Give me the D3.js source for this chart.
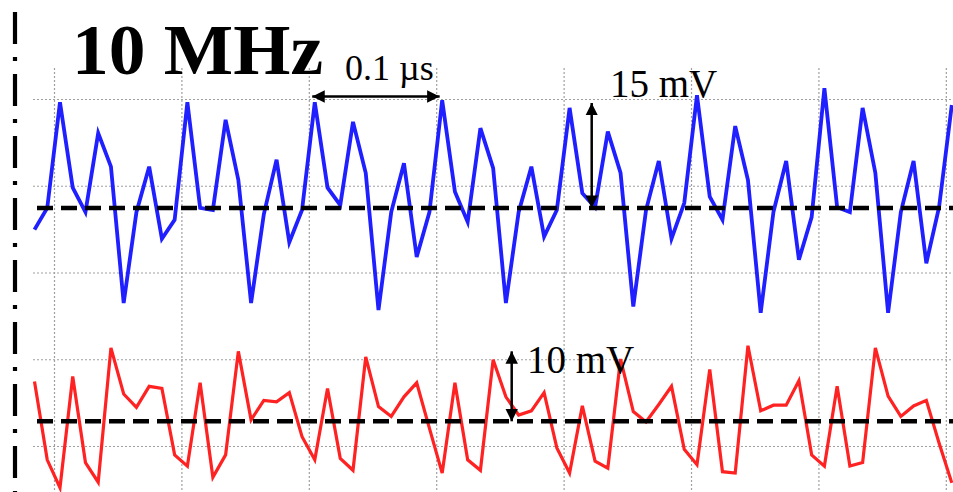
<!DOCTYPE html>
<html>
<head>
<meta charset="utf-8">
<script src="https://cdn.jsdelivr.net/npm/d3@7"></script>
<style>
  html, body { margin: 0; padding: 0; background: #fff; }
  svg { display: block; }
</style>
</head>
<body>
<svg id="chart" width="953" height="492"></svg>
<script>
// Sample instants: 73 samples, 0.01 µs apart (µs)
const sampleTimes = d3.range(73).map(i => +(i * 0.01).toFixed(2));

// Upper trace (blue), mV relative to its own baseline
const blueValues = [
  -3.1, 0.0, 15.1, 2.9, -0.6, 10.7, 5.9, -13.6, -0.6, 5.9,
  -4.4, -1.7, 15.1, 0.0, -0.3, 12.6, 4.0, -13.6, -0.9, 6.9,
  -4.9, -0.3, 15.1, 2.9, 0.4, 12.3, 5.0, -14.6, -0.6, 6.4,
  -7.0, -0.6, 15.4, 2.3, -2.0, 11.4, 5.7, -13.6, -0.6, 5.9,
  -4.1, -0.3, 14.3, 2.1, 0.1, 10.9, 5.0, -14.1, -0.3, 6.7,
  -4.4, 0.7, 16.1, 1.6, -1.7, 11.7, 4.0, -15.0, -0.6, 6.7,
  -7.4, -1.3, 17.1, 0.1, -0.6, 14.3, 5.0, -15.0, -0.6, 6.7,
  -7.9, 0.1, 14.7
];

// Lower trace (red), mV relative to its own baseline
const redValues = [
  5.7, -5.5, -9.5, 6.4, -5.9, -8.7, 10.5, 3.9, 2.0, 5.0,
  4.7, -4.8, -6.4, 5.5, -8.0, -4.8, 10.0, 0.2, 3.0, 2.8,
  4.1, -2.2, -5.5, 4.7, -5.3, -7.0, 9.2, 2.1, 0.7, 3.5,
  5.5, -1.0, -7.4, 5.5, -5.5, -7.0, 8.8, 3.5, 0.9, 1.5,
  4.1, -3.8, -7.4, 2.2, -5.7, -6.7, 8.9, 1.4, -0.1, 2.4,
  5.0, -4.0, -6.2, 7.4, -7.2, -7.4, 10.8, 1.5, 2.3, 2.3,
  5.8, -4.8, -6.4, 5.0, -6.4, -5.9, 10.5, 3.6, 0.7, 2.2,
  3.0, -3.1, -8.8
];

// Screen offsets of the two trace baselines (mV)
const baselines = { blue: 0, red: -30.5 };

// Annotation values
const titleText = "10 MHz";
const periodLabel = "0.1 µs";
const periodSpan = [0.218, 0.318];     // µs
const blueAmpLabel = "15 mV";
const blueAmp = 15;                   // mV
const redAmpLabel = "10 mV";
const redAmp = 10;                    // mV

// Graticule
const gridTimeStart = 0.0157;          // µs
const gridTimeStep = 0.1;              // µs
const gridMvTop = 15.5;                // mV
const gridMvStep = 12.4;               // mV per division

const svg = d3.select("#chart");
const W = 953, H = 492;

const x = d3.scaleLinear().domain([0, 0.72]).range([34.5, 951.8]);
const y = d3.scaleLinear().domain([gridMvTop, gridMvTop - 4 * gridMvStep]).range([99.5, 446.5]);

// Dotted grid
const gridG = svg.append("g")
  .attr("stroke", "#a0a0a0")
  .attr("stroke-width", 1.2)
  .attr("stroke-dasharray", "2,2");

const vTimes = d3.range(8).map(i => gridTimeStart + i * gridTimeStep);
gridG.selectAll("line.v").data(vTimes).join("line")
  .attr("class", "v")
  .attr("x1", d => x(d)).attr("x2", d => x(d))
  .attr("y1", 68).attr("y2", H);

const hVals = d3.range(5).map(i => gridMvTop - i * gridMvStep);
gridG.selectAll("line.h").data(hVals).join("line")
  .attr("class", "h")
  .attr("x1", 33).attr("x2", W)
  .attr("y1", d => y(d)).attr("y2", d => y(d));

// Left dash-dot marker line
svg.append("line")
  .attr("x1", 15).attr("x2", 15)
  .attr("y1", 12).attr("y2", H)
  .attr("stroke", "#000")
  .attr("stroke-width", 4.2)
  .attr("stroke-dasharray", "32,13,4,13");

// Traces
const line = off => d3.line()
  .x((d, i) => x(sampleTimes[i]))
  .y(d => y(d + off));

svg.append("path")
  .datum(blueValues)
  .attr("fill", "none")
  .attr("stroke", "#1f1fff")
  .attr("stroke-width", 3.8)
  .attr("stroke-linejoin", "miter")
  .attr("d", line(baselines.blue));

svg.append("path")
  .datum(redValues)
  .attr("fill", "none")
  .attr("stroke", "#ff2222")
  .attr("stroke-width", 3.2)
  .attr("stroke-linejoin", "miter")
  .attr("d", line(baselines.red));

// Baselines (dashed)
svg.selectAll("line.base").data([baselines.blue, baselines.red]).join("line")
  .attr("class", "base")
  .attr("x1", 37).attr("x2", W)
  .attr("y1", d => y(d)).attr("y2", d => y(d))
  .attr("stroke", "#000")
  .attr("stroke-width", 4.5)
  .attr("stroke-dasharray", "16,8");

// Arrow heads
const defs = svg.append("defs");
defs.append("marker")
  .attr("id", "arrow")
  .attr("viewBox", "0 0 10 10")
  .attr("refX", 10).attr("refY", 5)
  .attr("markerWidth", 5).attr("markerHeight", 5)
  .attr("markerUnits", "strokeWidth")
  .attr("orient", "auto-start-reverse")
  .append("path")
  .attr("d", "M0,0 L10,5 L0,10 z")
  .attr("fill", "#000");

const arrow = (x1, y1, x2, y2) => svg.append("line")
  .attr("x1", x1).attr("y1", y1).attr("x2", x2).attr("y2", y2)
  .attr("stroke", "#000")
  .attr("stroke-width", 2.5)
  .attr("marker-start", "url(#arrow)")
  .attr("marker-end", "url(#arrow)");

arrow(x(periodSpan[0]), 96.5, x(periodSpan[1]), 96.5);
arrow(591.7, y(baselines.blue + blueAmp), 591.7, y(baselines.blue));
arrow(511.7, y(baselines.red + redAmp), 511.7, y(baselines.red));

// Labels
const label = (txt, lx, ly, size) => svg.append("text")
  .attr("x", lx).attr("y", ly)
  .attr("font-family", "'Liberation Serif', 'Times New Roman', serif")
  .attr("font-size", size)
  .attr("fill", "#000")
  .text(txt);

label(periodLabel, 345, 80, 36);
label(blueAmpLabel, 610, 97, 39);
label(redAmpLabel, 527, 373, 39);

svg.append("text")
  .attr("x", 72).attr("y", 74)
  .attr("font-family", "'Liberation Serif', 'Times New Roman', serif")
  .attr("font-weight", "bold")
  .attr("font-size", 72)
  .attr("textLength", 251)
  .attr("lengthAdjust", "spacingAndGlyphs")
  .attr("fill", "#000")
  .text(titleText);
</script>
</body>
</html>
